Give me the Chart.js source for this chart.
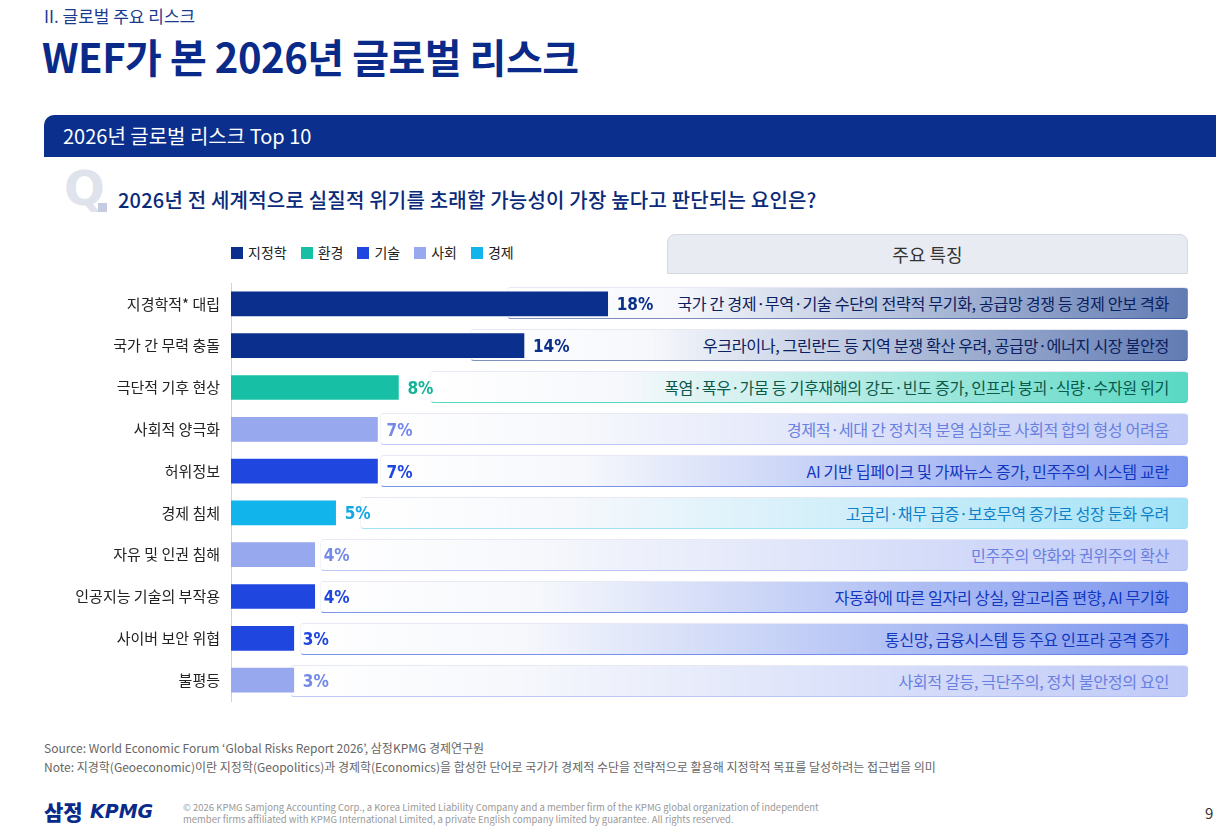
<!DOCTYPE html>
<html><head><meta charset="utf-8">
<script src="https://cdn.jsdelivr.net/npm/chart.js@4"></script>
<style>
body{margin:0;width:1226px;height:834px;position:relative;background:#fff;font-family:"Noto Sans CJK KR","Noto Sans",sans-serif;overflow:hidden}
.a{position:absolute;white-space:nowrap}
.box{position:absolute;height:32px;border-radius:4px;display:flex;align-items:center;justify-content:flex-end;padding-right:18px;box-sizing:border-box;font-size:16.2px;letter-spacing:-0.4px}
.lg span.s{display:inline-block;width:12px;height:12px;margin:0 5px 0 0;vertical-align:-1px}
.lg{font-size:14px;color:#222}
.lg i{font-style:normal;margin-right:14px}
</style></head><body>
<div class="a" style="left:44px;top:3px;font-size:17px;color:#1a3a8f">II. 글로벌 주요 리스크</div>
<div class="a" style="left:42px;top:27px;font-size:40px;font-weight:700;color:#0a2a8a;letter-spacing:-0.5px">WEF가 본 2026년 글로벌 리스크</div>
<div class="a" style="left:44px;top:115px;width:1172px;height:38px;background:#0b2f8c;border-radius:10px 0 0 0"></div>
<div class="a" style="left:44px;top:153px;width:1172px;height:4px;background:#0b2f8c"></div>
<div class="a" style="left:63px;top:121px;font-size:20px;color:#fff">2026년 글로벌 리스크 Top 10</div>
<div class="a" style="left:64px;top:160px;font-size:48px;font-weight:900;color:#dfe3ec;font-family:'DejaVu Sans'">Q</div>
<div class="a" style="left:98px;top:203px;width:9px;height:9px;background:#c5cbe0"></div>
<div class="a" style="left:118px;top:185px;font-size:20px;font-weight:500;color:#0a2a7a;letter-spacing:0.2px">2026년 전 세계적으로 실질적 위기를 초래할 가능성이 가장 높다고 판단되는 요인은?</div>
<div class="a lg" style="left:231px;top:242px" id="lg"></div>
<div class="a" style="left:667px;top:234px;width:521px;height:40px;background:#e8ebf2;border:1px solid #d5d9e3;border-radius:8px 8px 0 0;box-sizing:border-box;text-align:center;line-height:38px;font-size:18px;color:#333">주요 특징</div>
<div id="boxes"></div>
<canvas id="c" class="a" width="660" height="458" style="left:0;top:263px"></canvas>
<div class="a" style="left:44px;top:738px;font-size:12px;color:#666;line-height:19px">Source: World Economic Forum ‘Global Risks Report 2026’, 삼정KPMG 경제연구원<br>Note: 지경학(Geoeconomic)이란 지정학(Geopolitics)과 경제학(Economics)을 합성한 단어로 국가가 경제적 수단을 전략적으로 활용해 지정학적 목표를 달성하려는 접근법을 의미</div>
<div class="a" style="left:44px;top:796px;font-size:21px;font-weight:900;color:#0a2a8a">삼정</div>
<div class="a" style="left:90px;top:800px;font-size:19px;font-weight:900;font-style:italic;color:#0a2a8a;font-family:'DejaVu Sans'">KPMG</div>
<div class="a" style="left:183px;top:801px;font-size:9.5px;color:#999;line-height:12px">© 2026 KPMG Samjong Accounting Corp., a Korea Limited Liability Company and a member firm of the KPMG global organization of independent<br>member firms affiliated with KPMG International Limited, a private English company limited by guarantee. All rights reserved.</div>
<div class="a" style="left:1205px;top:802px;font-size:15px;color:#333">9</div>
<script>
// 카테고리와 값
const categories = ['지경학적* 대립','국가 간 무력 충돌','극단적 기후 현상','사회적 양극화','허위정보','경제 침체','자유 및 인권 침해','인공지능 기술의 부작용','사이버 보안 위협','불평등'];
const values = [18,14,8,7,7,5,4,4,3,3];
const groups = ['지정학','지정학','환경','사회','기술','경제','사회','기술','기술','사회'];
const features = ['국가 간 경제·무역·기술 수단의 전략적 무기화, 공급망 경쟁 등 경제 안보 격화','우크라이나, 그린란드 등 지역 분쟁 확산 우려, 공급망·에너지 시장 불안정','폭염·폭우·가뭄 등 기후재해의 강도·빈도 증가, 인프라 붕괴·식량·수자원 위기','경제적·세대 간 정치적 분열 심화로 사회적 합의 형성 어려움','AI 기반 딥페이크 및 가짜뉴스 증가, 민주주의 시스템 교란','고금리·채무 급증·보호무역 증가로 성장 둔화 우려','민주주의 약화와 권위주의 확산','자동화에 따른 일자리 상실, 알고리즘 편향, AI 무기화','통신망, 금융시스템 등 주요 인프라 공격 증가','사회적 갈등, 극단주의, 정치 불안정의 요인'];
const legendNames = ['지정학','환경','기술','사회','경제'];

const colors = {'지정학':'#0b2f8c','환경':'#17c0a4','기술':'#1f47e0','사회':'#98a8ee','경제':'#12b4ec'};
const textColors = {'지정학':'#0b2f8c','환경':'#14b397','기술':'#1f47e0','사회':'#7489e8','경제':'#12a8e4'};
const boxEnd = {'지정학':'rgba(70,100,165,0.85)','환경':'rgba(60,210,185,0.85)','기술':'rgba(100,130,235,0.85)','사회':'rgba(175,188,245,0.8)','경제':'rgba(140,220,245,0.8)'};
const boxText = {'지정학':'#0a2060','환경':'#0a5a4c','기술':'#1238c0','사회':'#6a80e0','경제':'#1080c8'};
const boxLeft = [507,470,430,380,380,360,320,320,300,290];

document.getElementById('lg').innerHTML = legendNames.map(n=>`<i><span class="s" style="background:${colors[n]}"></span>${n}</i>`).join('');
document.getElementById('boxes').innerHTML = features.map((f,i)=>{
  const g = groups[i], top = 287 + i*42;
  const w = 1188 - boxLeft[i];
  const b = g==='지정학' ? 'rgba(40,70,140,0.6)' : boxEnd[g];
  return `<div class="box" style="left:${boxLeft[i]}px;top:${top}px;width:${w}px;background:linear-gradient(90deg,rgba(255,255,255,0) 0%,rgba(240,243,250,0.6) 25%,${boxEnd[g]} 100%);border:1px solid ${b};border-left-color:#f2f4f8;border-top-color:#e6e9f2;color:${boxText[g]}">${f}</div>`;
}).join('');

const valueLabels = {
  id:'valueLabels',
  afterDatasetsDraw(chart){
    const ctx = chart.ctx, meta = chart.getDatasetMeta(0);
    ctx.save();
    ctx.font = 'bold 17px "DejaVu Sans Condensed"';
    ctx.textBaseline = 'middle';
    meta.data.forEach((bar,i)=>{
      ctx.fillStyle = textColors[groups[i]];
      ctx.fillText(values[i]+'%', bar.x+9, bar.y+2);
    });
    ctx.restore();
  }
};

new Chart(document.getElementById('c'), {
  type:'bar',
  data:{labels:categories, datasets:[{data:values, backgroundColor:groups.map(g=>colors[g]), barThickness:24}]},
  options:{
    indexAxis:'y', responsive:false, animation:false,
    layout:{padding:0},
    plugins:{legend:{display:false}, tooltip:{enabled:false}},
    scales:{
      x:{display:false, min:0, max:20.5},
      y:{grid:{display:false, drawTicks:false}, border:{color:'#cfd3dc'},
         ticks:{color:'#222', font:{size:15, family:'"Noto Sans CJK KR"'}, padding:11},
         afterFit(s){ s.width = 231; }}
    }
  },
  plugins:[valueLabels]
});
</script>
</body></html>
